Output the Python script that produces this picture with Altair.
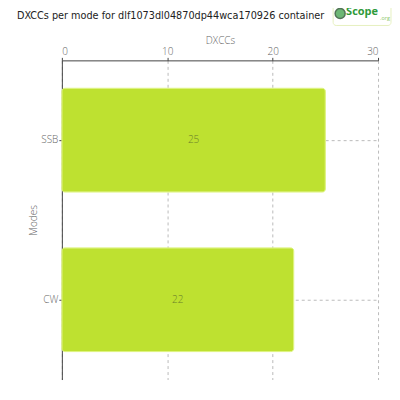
import altair as alt
import pandas as pd

modes = ["SSB", "CW"]
dxccs = [25, 22]

df = pd.DataFrame({"Modes": modes, "DXCCs": dxccs})
FONT = "Open Sans"

base = alt.Chart(df)

bars = base.mark_bar(
    color="#bee130", stroke="#dcf27a", strokeWidth=1, cornerRadius=3
).encode(
    x=alt.X("DXCCs:Q", scale=alt.Scale(domain=[0, 30]),
            axis=alt.Axis(orient="top", values=[0, 10, 20, 30], title="DXCCs",
                          grid=True, gridDash=[3, 3], gridColor="#bbbbbb",
                          domainColor="#444444", tickColor="#444444", tickSize=3,
                          labelColor="#666666", labelFontSize=10, labelPadding=1,
                          labelFontWeight=300,
                          titleColor="#666666", titleFontSize=10, titleFontWeight=300,
                          titlePadding=1, labelFont=FONT, titleFont=FONT)),
    y=alt.Y("Modes:N", sort=modes,
            scale=alt.Scale(paddingInner=0.35, paddingOuter=0.175),
            axis=alt.Axis(title="Modes", grid=True, gridDash=[3, 3], gridColor="#bbbbbb",
                          domainColor="#444444", tickColor="#444444", tickSize=3,
                          labelColor="#666666", labelFontSize=10, labelPadding=1,
                          labelFontWeight=300,
                          titleColor="#666666", titleFontSize=10, titleFontWeight=300,
                          titlePadding=2, labelFont=FONT, titleFont=FONT)),
)

labels = base.transform_calculate(mid="datum.DXCCs / 2").mark_text(
    color="#6b7f2a", fontSize=10, font=FONT, fontWeight=300
).encode(
    x=alt.X("mid:Q"),
    y=alt.Y("Modes:N", sort=modes),
    text=alt.Text("DXCCs:Q"),
)

title_txt = base.mark_text(
    text="DXCCs per mode for dlf1073dl04870dp44wca170926 container",
    fontSize=10.8, font="DejaVu Sans Condensed, sans-serif", color="#222222", align="left",
    baseline="alphabetic"
).encode(x=alt.value(-45), y=alt.value(-41)).transform_filter("datum.Modes == 'SSB'")

logo_box = base.mark_rect(
    fill="#ffffff", stroke="#e6f0c0", strokeWidth=1, cornerRadius=3
).encode(x=alt.value(272), x2=alt.value(330), y=alt.value(-57), y2=alt.value(-35)).transform_filter("datum.Modes == 'SSB'")
logo_dot = base.mark_point(
    filled=True, color="#2e9a3a", size=100, shape="circle", stroke="#0a3a10", strokeWidth=1.5
).encode(x=alt.value(279), y=alt.value(-47)).transform_filter("datum.Modes == 'SSB'")
logo_text = base.mark_text(
    text="Scope", color="#2e9a3a", fontSize=11, fontWeight="bold", font=FONT,
    align="left", baseline="middle"
).encode(x=alt.value(285), y=alt.value(-48)).transform_filter("datum.Modes == 'SSB'")
logo_org = base.mark_text(
    text=".org", color="#8cc86a", fontSize=5.5, font=FONT, align="left", baseline="middle"
).encode(x=alt.value(319), y=alt.value(-42)).transform_filter("datum.Modes == 'SSB'")

chart = alt.layer(bars, labels, title_txt, logo_box, logo_dot, logo_text, logo_org).properties(
    width=317, height=320,
    autosize=alt.AutoSizeParams(type="none"),
    padding={"left": 54, "top": 52, "right": 14, "bottom": 12},
).configure_view(stroke=None)

chart.save("out.html", embed_options={"renderer": "svg", "actions": False})
